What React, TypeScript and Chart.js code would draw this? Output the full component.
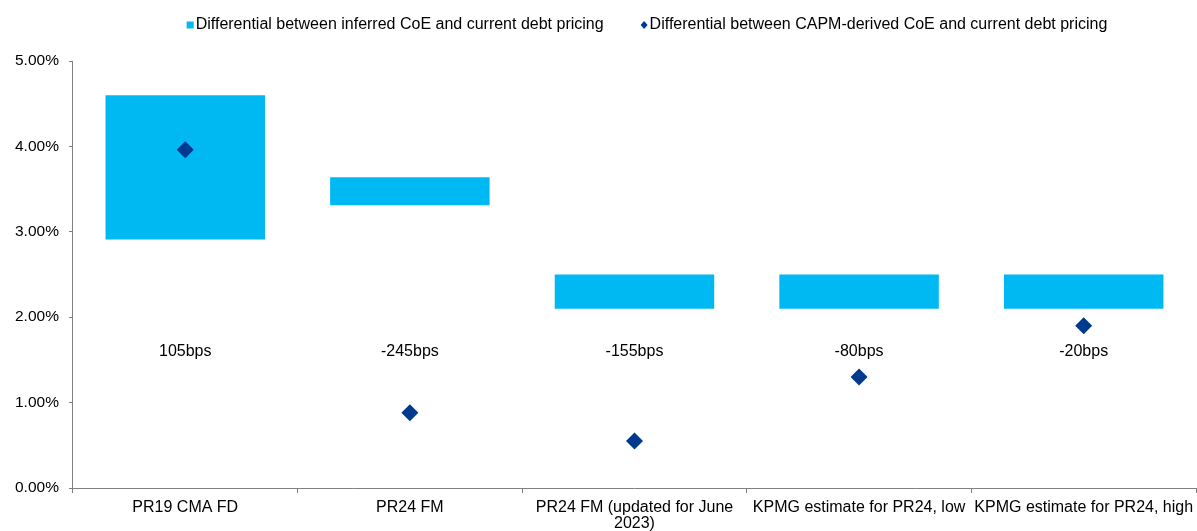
import React, { useEffect, useRef } from "react";
import { Chart, registerables } from "chart.js";

Chart.register(...registerables);

const categories: (string | string[])[] = [
  "PR19 CMA FD",
  "PR24 FM",
  ["PR24 FM (updated for June", "2023)"],
  "KPMG estimate for PR24, low",
  "KPMG estimate for PR24, high",
];
const inferredLow = [2.91, 3.31, 2.1, 2.1, 2.1];
const inferredHigh = [4.6, 3.64, 2.5, 2.5, 2.5];
const capmValues = [3.96, 0.88, 0.55, 1.3, 1.9];
const bpsLabels = ["105bps", "-245bps", "-155bps", "-80bps", "-20bps"];
const bpsLabelLevel = 1.6;
const seriesNames = [
  "Differential between inferred CoE and current debt pricing",
  "Differential between CAPM-derived CoE and current debt pricing",
];

const BAR_COLOR = "#00B9F2";
const DOT_COLOR = "#003A8F";
const FONT = "'Liberation Sans', Arial, sans-serif";

const bpsPlugin = {
  id: "bpsLabels",
  afterDatasetsDraw(chart: any) {
    const { ctx, scales } = chart;
    const xs = scales.x;
    const ys = scales.y;
    ctx.save();
    ctx.font = `16px ${FONT}`;
    ctx.fillStyle = "#000";
    ctx.textAlign = "center";
    ctx.textBaseline = "middle";
    bpsLabels.forEach((t, i) => {
      ctx.fillText(t, xs.getPixelForValue(i), ys.getPixelForValue(bpsLabelLevel));
    });
    ctx.restore();
  },
};

const legendPlugin = {
  id: "customLegend",
  afterDraw(chart: any) {
    const { ctx } = chart;
    ctx.save();
    ctx.font = `16px ${FONT}`;
    ctx.textBaseline = "middle";
    ctx.textAlign = "left";
    const marker = 7;
    const markerGap = 2;
    const itemGap = 37;
    const w0 = ctx.measureText(seriesNames[0]).width;
    const w1 = ctx.measureText(seriesNames[1]).width;
    const total = marker + markerGap + w0 + itemGap + marker + markerGap + w1;
    const cy = 25;
    let x = 647 - total / 2;
    ctx.fillStyle = BAR_COLOR;
    ctx.fillRect(x, cy - marker / 2, marker, marker);
    x += marker + markerGap;
    ctx.fillStyle = "#000";
    ctx.fillText(seriesNames[0], x, cy);
    x += w0 + itemGap;
    ctx.fillStyle = DOT_COLOR;
    ctx.beginPath();
    ctx.moveTo(x + marker / 2, cy - marker / 2 - 0.5);
    ctx.lineTo(x + marker, cy);
    ctx.lineTo(x + marker / 2, cy + marker / 2 + 0.5);
    ctx.lineTo(x, cy);
    ctx.closePath();
    ctx.fill();
    x += marker + markerGap;
    ctx.fillStyle = "#000";
    ctx.fillText(seriesNames[1], x, cy);
    ctx.restore();
  },
};

const CANVAS_W = 1197;
const CANVAS_H = 539;

export default function App() {
  const ref = useRef<HTMLCanvasElement | null>(null);
  useEffect(() => {
    if (!ref.current) return;
    const chart = new Chart(ref.current, {
      type: "bar",
      data: {
        labels: categories as any,
        datasets: [
          {
            type: "bar",
            label: seriesNames[0],
            data: inferredLow.map((lo, i) => [lo, inferredHigh[i]]) as any,
            backgroundColor: BAR_COLOR,
            borderWidth: 0,
            categoryPercentage: 1,
            barPercentage: 0.71,
            order: 2,
          },
          {
            type: "line",
            label: seriesNames[1],
            data: capmValues,
            showLine: false,
            pointStyle: "rectRot",
            pointRadius: 8.5,
            pointHoverRadius: 8.5,
            pointBackgroundColor: DOT_COLOR,
            pointBorderColor: DOT_COLOR,
            pointBorderWidth: 0,
            order: 1,
          } as any,
        ],
      },
      options: {
        animation: false,
        responsive: false,
        layout: { autoPadding: false, padding: { top: 61, right: 1, left: 5, bottom: 0 } },
        plugins: {
          tooltip: { enabled: false },
          legend: { display: false },
        },
        scales: {
          x: {
            type: "category",
            offset: true,
            afterFit: (s: any) => {
              s.paddingLeft = 0;
              s.paddingRight = 0;
            },
            grid: {
              offset: true,
              drawOnChartArea: false,
              drawTicks: true,
              tickLength: 5,
              color: "#808080",
            },
            border: { color: "#808080", width: 1 },
            ticks: {
              color: "#000",
              font: { size: 16, family: FONT, lineHeight: 1.0 },
              maxRotation: 0,
              autoSkip: false,
              padding: 7,
            },
          },
          y: {
            min: 0,
            max: 5,
            afterFit: (s: any) => {
              s.paddingTop = 0;
              s.paddingBottom = 0;
            },
            grid: {
              drawOnChartArea: false,
              drawTicks: true,
              tickLength: 4,
              color: "#808080",
            },
            border: { color: "#808080", width: 1 },
            ticks: {
              stepSize: 1,
              color: "#000",
              font: { size: 15.5, family: FONT },
              padding: 10,
              callback: (v: any) => Number(v).toFixed(2) + "%",
            },
          },
        },
      },
      plugins: [bpsPlugin, legendPlugin],
    });
    return () => chart.destroy();
  }, []);
  return (
    <div style={{ position: "absolute", left: 0, top: 0, width: 1197, height: 531, overflow: "hidden", background: "#fff" }}>
      <canvas ref={ref} width={CANVAS_W} height={CANVAS_H} style={{ display: "block", width: CANVAS_W, height: CANVAS_H }} />
    </div>
  );
}
